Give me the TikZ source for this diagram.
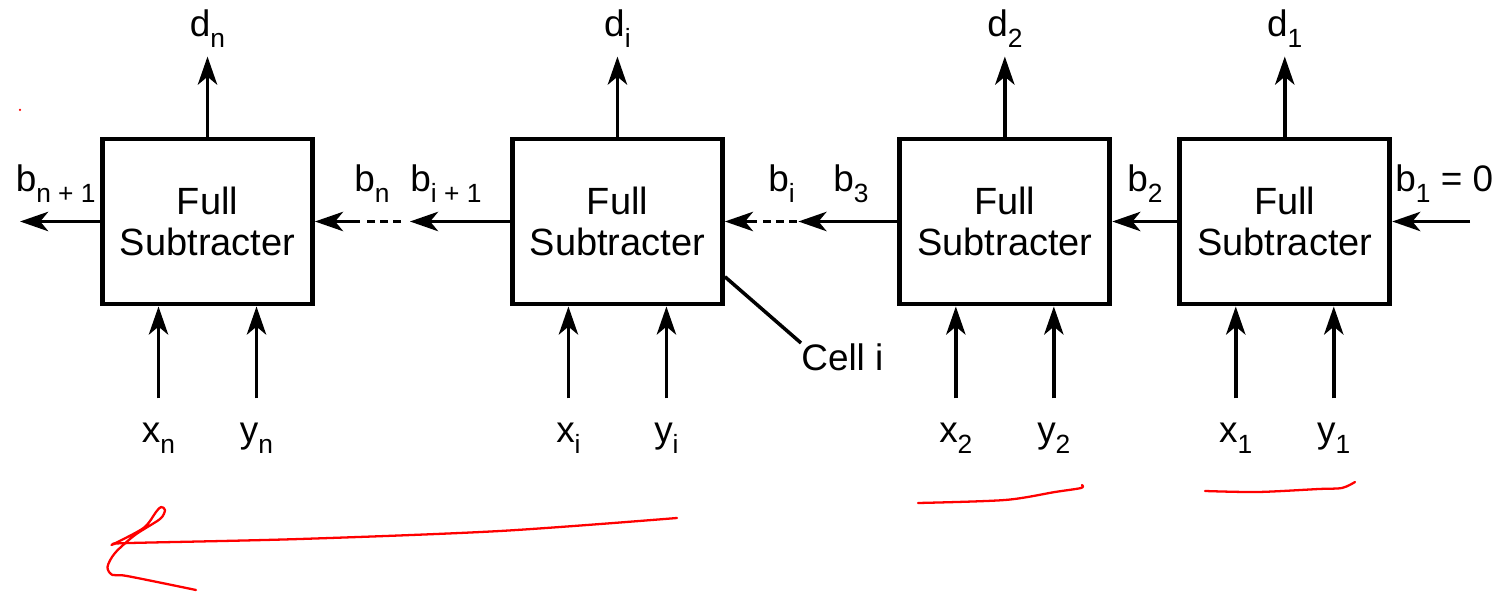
\documentclass[tikz,border=0pt]{standalone}
\usepackage{fontspec}
\setmainfont{Liberation Sans}
\usetikzlibrary{arrows.meta, positioning, calc}

\newcommand{\sub}[1]{\raisebox{-0.28em}{\fontsize{15}{15}\selectfont #1}}

\begin{document}
\begin{tikzpicture}[
  cell/.style={rectangle, draw, line width=2.8pt, minimum width=4.2cm, minimum height=3.3cm, align=center, font=\fontsize{21.6}{23.8}\selectfont},
  lbl/.style={inner sep=0pt, font=\fontsize{21}{24}\selectfont},
  arrow/.style={-{Stealth[length=16pt, width=11pt, inset=4.5pt]}, line width=2pt},
  link/.style={line width=2pt},
  dashlink/.style={line width=2pt, dash pattern=on 4.5pt off 2.9pt},
  scribble/.style={red, line width=1.3pt, line cap=round, line join=round}
]
\useasboundingbox (0,0) rectangle (29.92,-11.84);

% the four cells
\node[cell] (bxn) at (4.15,-4.43) {Full\\Subtracter};
\node[cell, right=3.9cm of bxn] (bxi) {Full\\Subtracter};
\node[cell, right=3.45cm of bxi] (bx2) {Full\\Subtracter};
\node[cell, right=1.3cm of bx2] (bx1) {Full\\Subtracter};

% difference outputs
\coordinate[above=1.6cm of bxn] (dnT);
\coordinate[above=1.6cm of bxi] (diT);
\coordinate[above=1.6cm of bx2] (d2T);
\coordinate[above=1.6cm of bx1] (d1T);
\node[lbl, above=5.2pt of dnT] (dn) {d\sub{n}};
\node[lbl, above=5.2pt of diT] (di) {d\sub{i}};
\node[lbl, above=5.2pt of d2T] (d2) {d\sub{2}};
\node[lbl, above=5.2pt of d1T] (d1) {d\sub{1}};
\draw[arrow] (bxn.north) -- (dnT);
\draw[arrow] (bxi.north) -- (diT);
\draw[arrow] (bx2.north) -- (d2T);
\draw[arrow] (bx1.north) -- (d1T);

% operand inputs
\coordinate (xnB) at ($(bxn.south)+(-0.98,-1.84)$);
\coordinate (ynB) at ($(bxn.south)+(0.98,-1.84)$);
\coordinate (xiB) at ($(bxi.south)+(-0.98,-1.84)$);
\coordinate (yiB) at ($(bxi.south)+(0.98,-1.84)$);
\coordinate (x2B) at ($(bx2.south)+(-0.98,-1.84)$);
\coordinate (y2B) at ($(bx2.south)+(0.98,-1.84)$);
\coordinate (x1B) at ($(bx1.south)+(-0.98,-1.84)$);
\coordinate (y1B) at ($(bx1.south)+(0.98,-1.84)$);
\node[lbl, below=14pt of xnB] (xn) {x\sub{n}};
\node[lbl, below=14pt of ynB] (yn) {y\sub{n}};
\node[lbl, below=14pt of xiB] (xi) {x\sub{i}};
\node[lbl, below=14pt of yiB] (yi) {y\sub{i}};
\node[lbl, below=14pt of x2B] (x2) {x\sub{2}};
\node[lbl, below=14pt of y2B] (y2) {y\sub{2}};
\node[lbl, below=14pt of x1B] (x1) {x\sub{1}};
\node[lbl, below=14pt of y1B] (y1) {y\sub{1}};
\draw[arrow] (xnB) -- (xnB |- bxn.south);
\draw[arrow] (ynB) -- (ynB |- bxn.south);
\draw[arrow] (xiB) -- (xiB |- bxi.south);
\draw[arrow] (yiB) -- (yiB |- bxi.south);
\draw[arrow] (x2B) -- (x2B |- bx2.south);
\draw[arrow] (y2B) -- (y2B |- bx2.south);
\draw[arrow] (x1B) -- (x1B |- bx1.south);
\draw[arrow] (y1B) -- (y1B |- bx1.south);

% borrow chain
\coordinate[right=1.56cm of bx1.east] (bin);
\coordinate[left=1.6cm of bxn.west] (bout);
\coordinate[left=2cm of bxi.west] (gapA);
\coordinate[right=0.9cm of bxn.east] (gapB);
\coordinate[left=1.98cm of bx2.west] (gapC);
\coordinate[right=0.64cm of bxi.east] (gapD);
\draw[arrow] (bin) -- (bx1.east);
\draw[arrow] (bx1.west) -- (bx2.east);
\draw[arrow] (bx2.west) -- (gapC);
\draw[dashlink, shorten <=1pt, shorten >=2pt] (gapC) -- (gapD);
\draw[arrow] (gapD) -- (bxi.east);
\draw[arrow] (bxi.west) -- (gapA);
\draw[dashlink, shorten <=5pt, shorten >=4pt] (gapA) -- (gapB);
\draw[arrow] (gapB) -- (bxn.east);
\draw[arrow] (bxn.west) -- (bout);

\node[lbl, anchor=base east] (bn1) at (1.92,-3.84) {b\sub{n + 1}};
\node[lbl, anchor=base west] (bn) at (7.08,-3.84) {b\sub{n}};
\node[lbl, anchor=base west] (bi1) at (8.2,-3.84) {b\sub{i + 1}};
\node[lbl, anchor=base west] (bi) at (15.36,-3.84) {b\sub{i}};
\node[lbl, anchor=base west] (b3) at (16.66,-3.84) {b\sub{3}};
\node[lbl, anchor=base west] (b2) at (22.54,-3.84) {b\sub{2}};
\node[lbl, anchor=base west] (b1) at (27.9,-3.84) {b\sub{1} = 0};

% cell pointer
\node[lbl, anchor=north west] (celli) at (16.02,-6.86) {Cell i};
\draw[link] ($(bxi.east)!0.65!(bxi.south east)$) -- (celli.north west);

% red pen marks
\fill[red] (0.4,-2.2) circle (0.025);
\draw[scribble] plot[smooth] coordinates {(13.54,-10.36) (10,-10.62) (6,-10.78) (2.6,-10.86) (2.3,-10.88)};
\draw[scribble] plot[smooth] coordinates {(2.23,-10.9) (2.87,-10.56) (3.12,-10.24) (3.22,-10.14) (3.3,-10.2) (3.2,-10.38) (2.7,-10.7) (2.3,-11.06) (2.15,-11.34) (2.25,-11.5) (2.54,-11.52) (3.92,-11.8)};
\draw[scribble] plot[smooth] coordinates {(18.36,-10.06) (20.1,-10.0) (21.1,-9.84) (21.62,-9.76) (21.64,-9.7)};
\draw[scribble] plot[smooth] coordinates {(24.1,-9.82) (25.16,-9.84) (26.38,-9.78) (26.84,-9.76) (27.1,-9.64)};
\end{tikzpicture}
\end{document}
